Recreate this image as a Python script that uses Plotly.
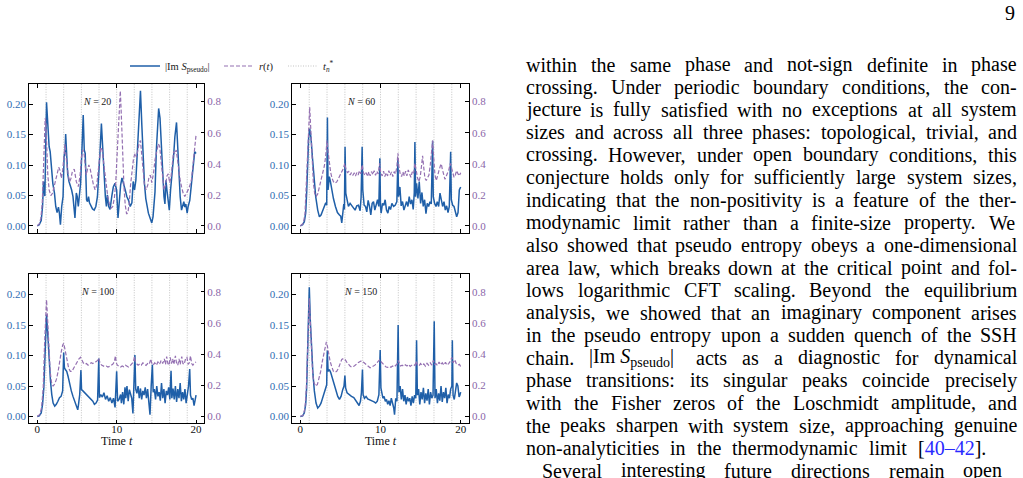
import plotly.graph_objects as go

W, H = 1023, 478
FONT = "Liberation Serif"
BLUE = "#1f5fa8"
BLUE_TXT = "#2f6db2"
PURPLE = "#9470b2"
PURPLE_TXT = "#8a66a9"
GREY = "#b4b4b4"

# ---------------- data ----------------
SIZES = [20, 60, 100, 150]
T_STAR = [1.11, 3.33, 5.56, 7.78, 10.0, 12.22, 14.44, 16.67, 18.89]
X_TICKS = [0, 10, 20]
S_TICKS = [0.0, 0.05, 0.10, 0.15, 0.20]
R_TICKS = [0.0, 0.2, 0.4, 0.6, 0.8]

# (t, |Im S_pseudo|) for N = 20
IM_S_20 = [(0, 0), (0.25, 0.002), (0.5, 0.009), (0.67, 0.032), (0.79, 0.073), (0.96, 0.049), (1.17, 0.203),
           (1.33, 0.163), (1.5, 0.130), (1.63, 0.122), (1.79, 0.092), (1.96, 0.070), (2.17, 0.054), (2.33, 0.032),
           (2.5, 0.022), (2.67, 0.031), (2.79, 0.021), (2.92, 0.002), (3.08, 0.032), (3.25, 0.048), (3.38, 0.114),
           (3.5, 0.122), (3.58, 0.151), (3.71, 0.108), (3.83, 0.086), (4.0, 0.073), (4.17, 0.067), (4.33, 0.059),
           (4.5, 0.048), (4.63, 0.021), (4.75, 0.013), (4.92, 0.054), (5.04, 0.048), (5.17, 0.032), (5.29, 0.054),
           (5.46, 0.070), (5.63, 0.125), (5.79, 0.182), (5.92, 0.125), (6.04, 0.119), (6.13, 0.081), (6.21, 0.043),
           (6.33, 0.040), (6.46, 0.048), (6.58, 0.038), (6.75, 0.032), (6.96, 0.028), (7.17, 0.026), (7.38, 0.032),
           (7.58, 0.048), (7.75, 0.081), (7.92, 0.125), (8.08, 0.168), (8.25, 0.130), (8.42, 0.075), (8.58, 0.048),
           (8.71, 0.032), (8.83, 0.051), (9.0, 0.032), (9.17, 0.027), (9.38, 0.048), (9.58, 0.064), (9.79, 0.070),
           (10.0, 0.059), (10.17, 0.013), (10.33, 0.048), (10.5, 0.067), (10.67, 0.079), (10.88, 0.070),
           (11.08, 0.059), (11.29, 0.048), (11.5, 0.042), (11.71, 0.032), (11.92, 0.038), (12.08, 0.073),
           (12.25, 0.059), (12.42, 0.075), (12.58, 0.114), (12.75, 0.163), (12.92, 0.207), (13.0, 0.222),
           (13.17, 0.166), (13.33, 0.108), (13.5, 0.070), (13.67, 0.045), (13.83, 0.032), (14.0, 0.021),
           (14.21, 0.013), (14.42, 0.005), (14.58, 0.015), (14.71, 0.040), (14.83, 0.056), (15.0, 0.125),
           (15.17, 0.163), (15.29, 0.193), (15.46, 0.177), (15.63, 0.136), (15.79, 0.081), (15.96, 0.048),
           (16.08, 0.036), (16.21, 0.075), (16.33, 0.059), (16.5, 0.033), (16.63, 0.026), (16.79, 0.059),
           (16.96, 0.081), (17.17, 0.114), (17.33, 0.146), (17.54, 0.170), (17.71, 0.125), (17.83, 0.081),
           (18.0, 0.048), (18.17, 0.026), (18.29, 0.033), (18.46, 0.040), (18.58, 0.031), (18.71, 0.036),
           (18.88, 0.021), (19.0, 0.032), (19.21, 0.042), (19.42, 0.070), (19.63, 0.103), (19.83, 0.122),
           (20.0, 0.119)]

# (t, r(t)) for N = 20
R_20 = [(0, 0), (0.25, 0.013), (0.46, 0.05), (0.63, 0.146), (0.75, 0.318), (0.88, 0.554), (1.0, 0.693),
        (1.08, 0.672), (1.21, 0.489), (1.33, 0.328), (1.5, 0.232), (1.71, 0.195), (1.92, 0.21), (2.13, 0.253),
        (2.33, 0.307), (2.54, 0.35), (2.71, 0.378), (2.88, 0.356), (3.04, 0.307), (3.21, 0.36), (3.38, 0.468),
        (3.5, 0.526), (3.63, 0.446), (3.75, 0.371), (3.92, 0.322), (4.08, 0.285), (4.25, 0.307), (4.42, 0.35),
        (4.67, 0.365), (4.92, 0.285), (5.17, 0.253), (5.38, 0.318), (5.58, 0.446), (5.75, 0.489), (5.92, 0.457),
        (6.04, 0.393), (6.17, 0.328), (6.33, 0.365), (6.5, 0.393), (6.67, 0.365), (6.88, 0.307), (7.08, 0.264),
        (7.29, 0.232), (7.5, 0.264), (7.67, 0.35), (7.83, 0.45), (8.0, 0.506), (8.17, 0.489), (8.33, 0.414),
        (8.5, 0.335), (8.67, 0.264), (8.88, 0.189), (9.08, 0.142), (9.29, 0.114), (9.5, 0.124), (9.71, 0.178),
        (9.88, 0.275), (10.04, 0.446), (10.21, 0.661), (10.38, 0.854), (10.46, 0.869), (10.58, 0.725),
        (10.75, 0.468), (10.92, 0.253), (11.08, 0.135), (11.25, 0.077), (11.42, 0.086), (11.58, 0.146),
        (11.75, 0.264), (11.92, 0.35), (12.13, 0.436), (12.33, 0.468), (12.5, 0.442), (12.67, 0.489),
        (12.83, 0.532), (13.0, 0.549), (13.17, 0.446), (13.33, 0.339), (13.5, 0.264), (13.71, 0.232),
        (13.92, 0.264), (14.08, 0.318), (14.25, 0.326), (14.42, 0.279), (14.63, 0.335), (14.83, 0.425),
        (15.04, 0.489), (15.25, 0.528), (15.42, 0.511), (15.58, 0.425), (15.75, 0.296), (15.96, 0.232),
        (16.17, 0.264), (16.33, 0.322), (16.5, 0.335), (16.67, 0.279), (16.83, 0.307), (17.0, 0.425),
        (17.17, 0.479), (17.33, 0.464), (17.5, 0.489), (17.67, 0.425), (17.83, 0.356), (18.0, 0.296),
        (18.17, 0.253), (18.38, 0.21), (18.58, 0.189), (18.79, 0.206), (19.0, 0.232), (19.21, 0.258),
        (19.42, 0.296), (19.63, 0.403), (19.83, 0.511), (20.0, 0.586)]

IM_S_60 = [(0, 0), (0.29, 0.002), (0.5, 0.007), (0.67, 0.021), (0.79, 0.054), (0.92, 0.108), (1.04, 0.145),
           (1.17, 0.160), (1.33, 0.145), (1.5, 0.114), (1.71, 0.075), (1.92, 0.048), (2.17, 0.026), (2.38, 0.015),
           (2.58, 0.018), (2.79, 0.025), (3.0, 0.032), (3.17, 0.038), (3.29, 0.034), (3.38, 0.178), (3.46, 0.059),
           (3.62, 0.081), (3.75, 0.073), (3.92, 0.059), (4.13, 0.045), (4.38, 0.032), (4.63, 0.022), (4.88, 0.018),
           (5.04, 0.016), (5.17, 0.005), (5.29, 0.026), (5.42, 0.036), (5.5, 0.027), (5.58, 0.130), (5.67, 0.054),
           (5.83, 0.045), (6.0, 0.032), (6.21, 0.037), (6.42, 0.033), (6.63, 0.031), (6.83, 0.026), (7.04, 0.033),
           (7.25, 0.034), (7.46, 0.025), (7.58, 0.047), (7.71, 0.130), (7.79, 0.059), (7.96, 0.034), (8.13, 0.032),
           (8.29, 0.023), (8.46, 0.042), (8.63, 0.032), (8.79, 0.018), (8.96, 0.037), (9.13, 0.040), (9.29, 0.026),
           (9.46, 0.036), (9.63, 0.043), (9.79, 0.032), (9.92, 0.111), (10.0, 0.032), (10.08, 0.021),
           (10.25, 0.037), (10.42, 0.034), (10.58, 0.043), (10.75, 0.026), (10.92, 0.021), (11.08, 0.032),
           (11.25, 0.027), (11.42, 0.037), (11.63, 0.032), (11.83, 0.034), (12.04, 0.040), (12.17, 0.111),
           (12.25, 0.048), (12.42, 0.064), (12.58, 0.033), (12.75, 0.040), (12.92, 0.026), (13.08, 0.032),
           (13.25, 0.040), (13.42, 0.032), (13.58, 0.048), (13.75, 0.036), (13.92, 0.043), (14.08, 0.027),
           (14.21, 0.054), (14.29, 0.138), (14.38, 0.048), (14.5, 0.070), (14.67, 0.045), (14.83, 0.073),
           (15.0, 0.037), (15.17, 0.055), (15.33, 0.032), (15.5, 0.043), (15.67, 0.020), (15.83, 0.037),
           (16.0, 0.032), (16.17, 0.040), (16.33, 0.036), (16.5, 0.140), (16.58, 0.048), (16.75, 0.037),
           (16.92, 0.032), (17.08, 0.040), (17.25, 0.032), (17.42, 0.054), (17.58, 0.043), (17.75, 0.032),
           (17.92, 0.040), (18.08, 0.026), (18.25, 0.033), (18.42, 0.022), (18.58, 0.032), (18.75, 0.122),
           (18.83, 0.043), (19.0, 0.034), (19.17, 0.032), (19.33, 0.025), (19.5, 0.015), (19.67, 0.022),
           (19.83, 0.059), (20.0, 0.064)]

R_60 = [(0, 0), (0.38, 0.017), (0.58, 0.077), (0.75, 0.275), (0.92, 0.511), (1.08, 0.715), (1.17, 0.764),
        (1.29, 0.639), (1.46, 0.425), (1.63, 0.275), (1.79, 0.21), (1.96, 0.189), (2.17, 0.206), (2.38, 0.249),
        (2.58, 0.296), (2.79, 0.339), (3.0, 0.386), (3.17, 0.451), (3.33, 0.549), (3.46, 0.479), (3.63, 0.403),
        (3.79, 0.343), (3.96, 0.307), (4.13, 0.285), (4.33, 0.275), (4.54, 0.283), (4.75, 0.305), (4.96, 0.326),
        (5.17, 0.343), (5.38, 0.371), (5.54, 0.403), (5.71, 0.36), (5.88, 0.343), (6.04, 0.35), (6.21, 0.328),
        (6.38, 0.343), (6.54, 0.326), (6.71, 0.339), (6.88, 0.322), (7.04, 0.343), (7.21, 0.328), (7.38, 0.356),
        (7.54, 0.335), (7.71, 0.393), (7.88, 0.343), (8.04, 0.326), (8.21, 0.343), (8.38, 0.318), (8.54, 0.348),
        (8.71, 0.322), (8.88, 0.35), (9.04, 0.33), (9.21, 0.356), (9.38, 0.326), (9.54, 0.352), (9.71, 0.335),
        (9.88, 0.403), (10.04, 0.339), (10.21, 0.322), (10.38, 0.352), (10.54, 0.318), (10.71, 0.343),
        (10.88, 0.322), (11.04, 0.356), (11.21, 0.328), (11.38, 0.348), (11.54, 0.318), (11.71, 0.35),
        (11.88, 0.335), (12.04, 0.382), (12.17, 0.468), (12.29, 0.382), (12.46, 0.335), (12.63, 0.318),
        (12.79, 0.348), (12.96, 0.322), (13.13, 0.352), (13.29, 0.322), (13.46, 0.36), (13.63, 0.33),
        (13.79, 0.313), (13.96, 0.348), (14.13, 0.335), (14.29, 0.403), (14.46, 0.339), (14.63, 0.307),
        (14.79, 0.285), (14.96, 0.318), (15.13, 0.393), (15.25, 0.451), (15.38, 0.382), (15.54, 0.307),
        (15.71, 0.292), (15.88, 0.318), (16.04, 0.328), (16.21, 0.393), (16.38, 0.489), (16.5, 0.549),
        (16.63, 0.446), (16.79, 0.328), (16.96, 0.292), (17.13, 0.318), (17.29, 0.356), (17.46, 0.386),
        (17.58, 0.399), (17.71, 0.365), (17.88, 0.322), (18.04, 0.3), (18.21, 0.322), (18.38, 0.339),
        (18.54, 0.365), (18.71, 0.403), (18.83, 0.378), (19.0, 0.335), (19.17, 0.313), (19.33, 0.328),
        (19.5, 0.356), (19.67, 0.335), (19.83, 0.322), (20.0, 0.343)]

IM_S_100 = [(0, 0), (0.25, 0.001), (0.5, 0.006), (0.67, 0.02), (0.83, 0.047), (1.0, 0.10), (1.12, 0.155),
            (1.17, 0.167), (1.33, 0.134), (1.5, 0.091), (1.67, 0.058), (1.83, 0.036), (2.0, 0.022), (2.2, 0.017),
            (2.4, 0.02), (2.6, 0.025), (2.8, 0.031), (3.0, 0.033), (3.2, 0.042), (3.33, 0.105), (3.42, 0.08),
            (3.54, 0.077), (3.71, 0.074), (3.88, 0.066), (4.08, 0.052), (4.29, 0.042), (4.5, 0.033), (4.71, 0.025),
            (4.92, 0.017), (5.1, 0.011), (5.2, 0.02), (5.35, 0.036), (5.5, 0.076), (5.58, 0.044), (5.75, 0.042),
            (5.96, 0.039), (6.17, 0.036), (6.38, 0.034), (6.58, 0.031), (6.79, 0.028), (7.0, 0.025), (7.2, 0.02),
            (7.4, 0.022), (7.6, 0.027), (7.75, 0.095), (7.83, 0.031), (8.0, 0.036), (8.2, 0.032), (8.4, 0.039),
            (8.6, 0.028), (8.8, 0.034), (9.0, 0.025), (9.2, 0.031), (9.4, 0.022), (9.6, 0.03), (9.8, 0.015),
            (9.92, 0.047), (10.0, 0.074), (10.12, 0.025), (10.3, 0.028), (10.5, 0.036), (10.6, 0.022),
            (10.75, 0.04), (10.9, 0.02), (11.05, 0.048), (11.15, 0.03), (11.3, 0.05), (11.45, 0.025),
            (11.6, 0.044), (11.75, 0.035), (11.9, 0.03), (12.05, 0.005), (12.15, 0.04), (12.3, 0.101),
            (12.4, 0.045), (12.55, 0.038), (12.7, 0.05), (12.85, 0.03), (13.0, 0.046), (13.15, 0.028),
            (13.3, 0.042), (13.45, 0.035), (13.6, 0.048), (13.75, 0.03), (13.9, 0.045), (14.05, 0.025),
            (14.2, 0.003), (14.35, 0.05), (14.5, 0.085), (14.6, 0.04), (14.75, 0.045), (14.9, 0.028),
            (15.05, 0.05), (15.2, 0.033), (15.35, 0.04), (15.5, 0.026), (15.65, 0.055), (15.8, 0.03),
            (15.95, 0.045), (16.1, 0.022), (16.25, 0.042), (16.4, 0.035), (16.55, 0.048), (16.7, 0.028),
            (16.85, 0.075), (16.95, 0.03), (17.1, 0.046), (17.25, 0.028), (17.4, 0.05), (17.55, 0.024),
            (17.7, 0.045), (17.85, 0.03), (18.0, 0.055), (18.15, 0.025), (18.3, 0.04), (18.45, 0.028),
            (18.6, 0.045), (18.75, 0.022), (18.9, 0.035), (19.05, 0.05), (19.2, 0.078), (19.3, 0.035),
            (19.45, 0.028), (19.6, 0.03), (19.75, 0.018), (19.9, 0.03), (20.0, 0.035)]

R_100 = [(0, 0), (0.33, 0.013), (0.54, 0.056), (0.75, 0.18), (0.92, 0.46), (1.08, 0.74), (1.17, 0.75),
         (1.29, 0.64), (1.46, 0.44), (1.63, 0.29), (1.79, 0.22), (2.0, 0.195), (2.21, 0.21), (2.42, 0.24),
         (2.63, 0.29), (2.83, 0.36), (3.04, 0.42), (3.21, 0.46), (3.33, 0.47), (3.46, 0.44), (3.63, 0.39),
         (3.79, 0.345), (3.96, 0.31), (4.17, 0.29), (4.38, 0.29), (4.58, 0.31), (4.83, 0.335), (5.04, 0.356),
         (5.25, 0.37), (5.46, 0.38), (5.63, 0.36), (5.79, 0.345), (6.0, 0.335), (6.2, 0.34), (6.4, 0.33),
         (6.6, 0.338), (6.8, 0.345), (7.0, 0.34), (7.2, 0.35), (7.4, 0.352), (7.6, 0.36), (7.75, 0.375),
         (7.9, 0.345), (8.1, 0.33), (8.3, 0.324), (8.5, 0.32), (8.7, 0.324), (8.9, 0.318), (9.1, 0.322),
         (9.3, 0.328), (9.5, 0.335), (9.7, 0.35), (9.85, 0.39), (9.95, 0.345), (10.1, 0.33), (10.3, 0.322),
         (10.5, 0.318), (10.7, 0.325), (10.9, 0.32), (11.1, 0.33), (11.3, 0.322), (11.5, 0.318), (11.7, 0.326),
         (11.9, 0.335), (12.1, 0.35), (12.25, 0.385), (12.35, 0.35), (12.5, 0.34), (12.7, 0.33), (12.9, 0.338),
         (13.1, 0.33), (13.3, 0.345), (13.5, 0.335), (13.7, 0.328), (13.9, 0.34), (14.1, 0.335), (14.3, 0.37),
         (14.4, 0.345), (14.6, 0.33), (14.8, 0.345), (15.0, 0.33), (15.2, 0.35), (15.4, 0.335), (15.6, 0.36),
         (15.8, 0.34), (16.0, 0.37), (16.15, 0.335), (16.3, 0.385), (16.45, 0.34), (16.6, 0.33), (16.75, 0.38),
         (16.9, 0.34), (17.05, 0.37), (17.2, 0.335), (17.4, 0.39), (17.55, 0.34), (17.7, 0.33), (17.85, 0.37),
         (18.0, 0.335), (18.2, 0.385), (18.35, 0.34), (18.5, 0.335), (18.7, 0.375), (18.85, 0.38), (19.0, 0.335),
         (19.15, 0.345), (19.3, 0.39), (19.45, 0.34), (19.6, 0.33), (19.8, 0.345), (20.0, 0.35)]

IM_S_150 = [(0, 0), (0.29, 0.001), (0.5, 0.006), (0.67, 0.02), (0.79, 0.047), (0.92, 0.10), (1.04, 0.17),
            (1.12, 0.212), (1.25, 0.156), (1.42, 0.10), (1.58, 0.069), (1.75, 0.042), (1.96, 0.022), (2.17, 0.014),
            (2.38, 0.017), (2.58, 0.022), (2.79, 0.031), (3.0, 0.039), (3.17, 0.047), (3.29, 0.052), (3.33, 0.09),
            (3.37, 0.108), (3.46, 0.074), (3.62, 0.077), (3.79, 0.072), (4.0, 0.063), (4.21, 0.052), (4.46, 0.042),
            (4.67, 0.033), (4.88, 0.028), (5.08, 0.033), (5.29, 0.044), (5.45, 0.05), (5.56, 0.067), (5.65, 0.047),
            (5.83, 0.039), (6.08, 0.036), (6.38, 0.033), (6.67, 0.031), (6.92, 0.026), (7.13, 0.022), (7.33, 0.018),
            (7.5, 0.025), (7.62, 0.039), (7.75, 0.077), (7.83, 0.036), (8.0, 0.03), (8.2, 0.033), (8.4, 0.029),
            (8.6, 0.028), (8.8, 0.026), (9.0, 0.025), (9.2, 0.024), (9.4, 0.022), (9.6, 0.025), (9.8, 0.036),
            (9.96, 0.109), (10.05, 0.047), (10.17, 0.039), (10.3, 0.03), (10.45, 0.033), (10.6, 0.025),
            (10.75, 0.028), (10.9, 0.02), (11.05, 0.026), (11.2, 0.018), (11.35, 0.03), (11.5, 0.022),
            (11.65, 0.014), (11.75, 0.003), (11.9, 0.03), (12.05, 0.025), (12.2, 0.150), (12.3, 0.04),
            (12.45, 0.05), (12.6, 0.028), (12.75, 0.045), (12.9, 0.025), (13.05, 0.035), (13.2, 0.02),
            (13.35, 0.032), (13.5, 0.025), (13.65, 0.03), (13.8, 0.018), (13.95, 0.033), (14.1, 0.022),
            (14.25, 0.035), (14.4, 0.03), (14.5, 0.125), (14.6, 0.035), (14.75, 0.045), (14.9, 0.02),
            (15.05, 0.04), (15.2, 0.028), (15.35, 0.047), (15.5, 0.022), (15.65, 0.038), (15.8, 0.026),
            (15.95, 0.045), (16.1, 0.02), (16.25, 0.04), (16.4, 0.03), (16.55, 0.035), (16.7, 0.156),
            (16.8, 0.03), (16.95, 0.045), (17.1, 0.022), (17.25, 0.038), (17.4, 0.026), (17.55, 0.05),
            (17.7, 0.024), (17.85, 0.04), (18.0, 0.03), (18.15, 0.047), (18.3, 0.022), (18.45, 0.036),
            (18.6, 0.03), (18.75, 0.045), (18.9, 0.05), (18.96, 0.125), (19.05, 0.035), (19.2, 0.028),
            (19.35, 0.045), (19.5, 0.055), (19.65, 0.05), (19.8, 0.032), (19.9, 0.035), (20.0, 0.04)]

R_150 = [(0, 0), (0.38, 0.009), (0.58, 0.056), (0.75, 0.18), (0.92, 0.44), (1.04, 0.66), (1.12, 0.76),
         (1.25, 0.61), (1.38, 0.42), (1.54, 0.27), (1.71, 0.217), (1.92, 0.195), (2.13, 0.206), (2.33, 0.24),
         (2.54, 0.29), (2.75, 0.356), (2.96, 0.42), (3.13, 0.46), (3.25, 0.48), (3.38, 0.45), (3.54, 0.40),
         (3.71, 0.356), (3.92, 0.32), (4.13, 0.29), (4.33, 0.285), (4.54, 0.29), (4.75, 0.31), (4.96, 0.345),
         (5.17, 0.367), (5.4, 0.373), (5.58, 0.366), (5.79, 0.35), (6.0, 0.335), (6.2, 0.324), (6.4, 0.318),
         (6.6, 0.32), (6.8, 0.328), (7.0, 0.34), (7.2, 0.345), (7.4, 0.352), (7.66, 0.358), (7.85, 0.35),
         (8.05, 0.34), (8.25, 0.33), (8.5, 0.318), (8.7, 0.313), (8.9, 0.318), (9.1, 0.322), (9.3, 0.33),
         (9.5, 0.342), (9.7, 0.352), (9.9, 0.365), (10.1, 0.35), (10.3, 0.338), (10.5, 0.325), (10.7, 0.318),
         (10.9, 0.316), (11.1, 0.322), (11.3, 0.316), (11.5, 0.324), (11.7, 0.318), (11.9, 0.33), (12.1, 0.34),
         (12.2, 0.36), (12.35, 0.335), (12.5, 0.325), (12.7, 0.33), (12.9, 0.322), (13.1, 0.332), (13.3, 0.325),
         (13.5, 0.335), (13.7, 0.322), (13.9, 0.33), (14.1, 0.335), (14.3, 0.328), (14.45, 0.355), (14.6, 0.33),
         (14.8, 0.325), (15.0, 0.34), (15.2, 0.328), (15.4, 0.338), (15.6, 0.324), (15.8, 0.342), (16.0, 0.33),
         (16.2, 0.345), (16.4, 0.33), (16.6, 0.36), (16.75, 0.335), (16.9, 0.34), (17.1, 0.328), (17.3, 0.35),
         (17.5, 0.332), (17.7, 0.345), (17.9, 0.33), (18.1, 0.348), (18.3, 0.33), (18.5, 0.34), (18.7, 0.355),
         (18.9, 0.38), (19.05, 0.345), (19.25, 0.365), (19.45, 0.34), (19.65, 0.33), (19.85, 0.335), (20.0, 0.32)]

IM_S = [IM_S_20, IM_S_60, IM_S_100, IM_S_150]
R_T = [R_20, R_60, R_100, R_150]

# body text of the page (one entry per printed line)
BODY_LINES = [
    "within the same phase and not-sign definite in phase",
    "crossing. Under periodic boundary conditions, the con-",
    "jecture is fully satisfied with no exceptions at all system",
    "sizes and across all three phases: topological, trivial, and",
    "crossing. However, under open boundary conditions, this",
    "conjecture holds only for sufficiently large system sizes,",
    "indicating that the non-positivity is a feature of the ther-",
    "modynamic limit rather than a finite-size property. We",
    "also showed that pseudo entropy obeys a one-dimensional",
    "area law, which breaks down at the critical point and fol-",
    "lows logarithmic CFT scaling. Beyond the equilibrium",
    "analysis, we showed that an imaginary component arises",
    "in the pseudo entropy upon a sudden quench of the SSH",
    "chain. |ImS| acts as a diagnostic for dynamical",
    "phase transitions: its singular peaks coincide precisely",
    "with the Fisher zeros of the Loschmidt amplitude, and",
    "the peaks sharpen with system size, approaching genuine",
    "non-analyticities in the thermodynamic limit [40–42].",
    "Several interesting future directions remain open",
]
PAGE_NUMBER = "9"

# ---------------- layout helpers ----------------
def fx(px):
    return px / W


def fy(py):
    return 1 - py / H


PANELS = [(29.3, 84.0, 204.0, 232.7), (292.3, 84.0, 468.7, 232.7),
          (29.3, 274.3, 204.0, 423.3), (292.3, 274.3, 468.7, 423.3)]
S_RANGE = [-0.0111, 0.2331]
R_RANGE = [-0.0435, 0.9135]

fig = go.Figure()
layout = {}
for i, (l, t, r, b) in enumerate(PANELS):
    xn = "x" if i == 0 else f"x{i + 1}"
    yl = "y" if i == 0 else f"y{2 * i + 1}"
    yr = f"y{2 * i + 2}"
    bottom = i >= 2
    ts, vs = zip(*IM_S[i])
    tr, rr = zip(*R_T[i])
    fig.add_trace(go.Scatter(x=ts, y=vs, mode="lines", xaxis=xn, yaxis=yl,
                             line=dict(color=BLUE, width=1.5),
                             name="|Im <i>S</i><sub>pseudo</sub>|",
                             showlegend=(i == 0), legend="legend"))
    fig.add_trace(go.Scatter(x=tr, y=rr, mode="lines", xaxis=xn, yaxis=yr,
                             line=dict(color=PURPLE, width=1.2, dash="4px,2px"),
                             name="<i>r</i>(<i>t</i>)",
                             showlegend=(i == 0), legend="legend2"))
    for k, ts_ in enumerate(T_STAR):
        fig.add_shape(type="line", xref=xn, yref=f"{yl} domain", x0=ts_, x1=ts_, y0=0, y1=1,
                      line=dict(color=GREY, width=0.8, dash="1px,1.5px"), layer="below",
                      showlegend=(i == 0 and k == 0), legend="legend3",
                      name="<i>t</i><sub><i>n</i></sub><sup>*</sup>")
    fig.add_annotation(xref=f"{xn} domain", yref=f"{yl} domain", x=0.388, y=0.935,
                       text=f"<i>N</i> = {SIZES[i]}", showarrow=False,
                       font=dict(family=FONT, size=10, color="#222"))
    common = dict(showgrid=False, zeroline=False, showline=True, linecolor="black", linewidth=1,
                  ticks="inside", ticklen=3.5, tickwidth=0.8, tickcolor="black")
    xkey = "xaxis" if i == 0 else f"xaxis{i + 1}"
    xa = dict(domain=[fx(l), fx(r)], anchor=yl, range=[-1, 21], tickvals=X_TICKS,
              mirror="ticks", showticklabels=bottom,
              tickfont=dict(family=FONT, size=11, color="#111"), **common)
    if bottom:
        xa["ticklabelstandoff"] = -5
        xa["title"] = dict(text="Time <i>t</i>", standoff=1,
                           font=dict(family=FONT, size=12, color="#111"))
    layout[xkey] = xa
    ylkey = "yaxis" if i == 0 else f"yaxis{2 * i + 1}"
    layout[ylkey] = dict(domain=[fy(b), fy(t)], anchor=xn, range=S_RANGE, tickvals=S_TICKS,
                         ticktext=[f"{v:.2f}" for v in S_TICKS],
                         tickfont=dict(family=FONT, size=11, color=BLUE_TXT), **common)
    layout[f"yaxis{2 * i + 2}"] = dict(overlaying=yl, side="right", anchor=xn, range=R_RANGE,
                                       tickvals=R_TICKS, ticktext=[f"{v:.1f}" for v in R_TICKS],
                                       tickfont=dict(family=FONT, size=11, color=PURPLE_TXT),
                                       **common)

leg_common = dict(orientation="h", yanchor="middle", y=fy(66), xanchor="left",
                  font=dict(family=FONT, size=10.5, color="#222"), bgcolor="rgba(0,0,0,0)",
                  borderwidth=0, itemwidth=30)
layout["legend"] = dict(x=fx(125), **leg_common)
layout["legend2"] = dict(x=fx(219), **leg_common)
layout["legend3"] = dict(x=fx(283), **leg_common)

# ---------------- body text (justified, word by word) ----------------
TW = {' ': 250, ',': 250, '-': 333, '.': 250, ':': 278, '[': 333, ']': 333, '|': 200, '–': 500}
for ch in "0123456789":
    TW[ch] = 500
TW.update(dict(zip("abcdefghijklmnopqrstuvwxyz",
                   [444, 500, 444, 500, 444, 333, 500, 500, 278, 278, 500, 278, 778, 500, 500, 500, 500,
                    333, 389, 278, 500, 500, 722, 500, 500, 444])))
TW.update(dict(zip("ABCDEFGHIJKLMNOPQRSTUVWXYZ",
                   [722, 667, 667, 722, 611, 556, 722, 722, 333, 389, 722, 611, 889, 722, 722, 556, 722,
                    667, 556, 611, 722, 722, 944, 722, 722, 611])))
SPECIAL = {
    "|ImS|": ("|Im <i>S</i><sub>pseudo</sub>|", 4600),
    "[40–42].": ("[<span style='color:#2a2aff'>40–42</span>].", None),
}
FS = 20
LINE_STEP = 22.55
LEFT = [525] * 18 + [541]
RIGHT = [1016] * 17 + [985, 1001]
annots = list(fig.layout.annotations)
for k, line in enumerate(BODY_LINES):
    words = line.split(" ")
    items = []
    for wd in words:
        html, wu = SPECIAL.get(wd, (wd, None))
        if wu is None:
            wu = sum(TW.get(c, 500) for c in wd)
        items.append((html, wu * FS / 1000))
    total = sum(w for _, w in items)
    gap = (RIGHT[k] - LEFT[k] - total) / (len(items) - 1)
    x = LEFT[k]
    yc = 64.7 + LINE_STEP * k
    for html, w in items:
        annots.append(dict(xref="paper", yref="paper", x=fx(x - 1), y=fy(yc), xanchor="left",
                           yanchor="middle", text=html, showarrow=False,
                           font=dict(family=FONT, size=FS, color="#000")))
        x += w + gap
annots.append(dict(xref="paper", yref="paper", x=fx(1010), y=fy(13), xanchor="center", yanchor="middle",
                   text=PAGE_NUMBER, showarrow=False, font=dict(family=FONT, size=FS, color="#000")))

fig.update_layout(width=W, height=H, margin=dict(l=0, r=0, t=0, b=0),
                  paper_bgcolor="white", plot_bgcolor="white", annotations=annots, **layout)
fig.write_html("out.html")
